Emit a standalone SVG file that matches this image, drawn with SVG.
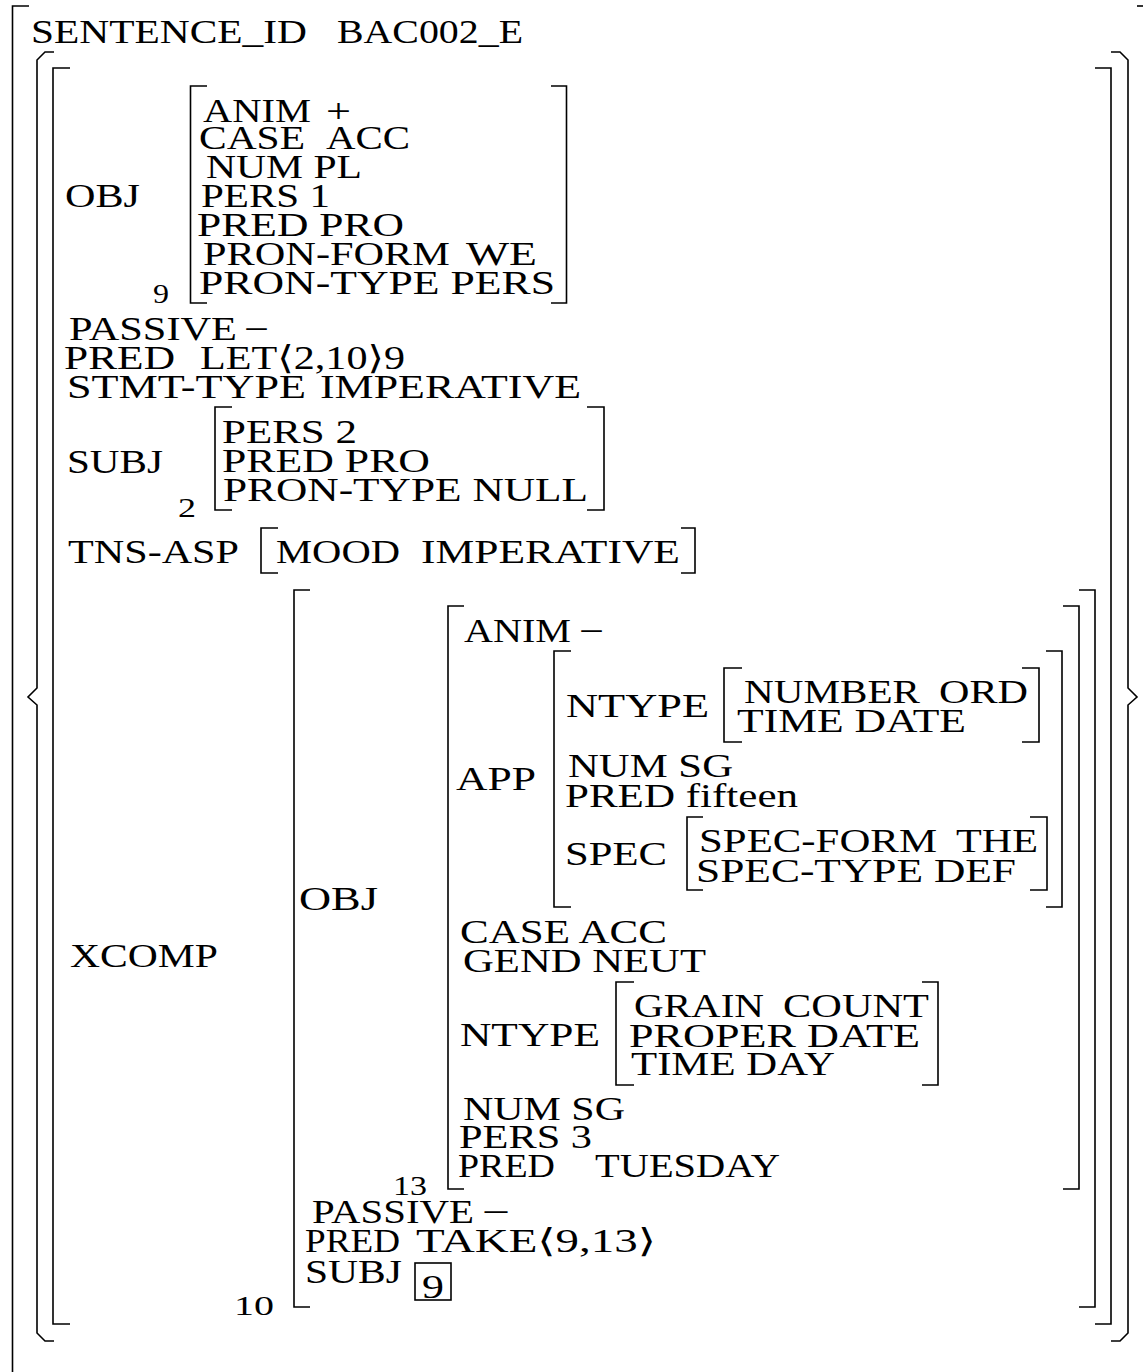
<svg xmlns="http://www.w3.org/2000/svg" width="1143" height="1372" viewBox="0 0 1143 1372">
  <style>
    text { font-family: "Liberation Serif", "DejaVu Serif", serif; font-size: 33px; fill: #000; }
    text.n { font-size: 27px; }
    .br { fill: none; stroke: #000; stroke-width: 1.6; stroke-linejoin: miter; }
  </style>
  <rect width="1143" height="1372" fill="#fff"/>

  <!-- outer frame -->
  <g id="frame">
    <path class="br" d="M29,6 H12.5 V1372"/>
    <path class="br" d="M1137,6 H1143"/>
    <text x="31" y="43" textLength="276" lengthAdjust="spacingAndGlyphs">SENTENCE_ID</text>
    <text x="337" y="43" textLength="186" lengthAdjust="spacingAndGlyphs">BAC002_E</text>
  </g>

  <!-- set braces and top-level f-structure brackets -->
  <g id="fstructure">
    <path class="br" d="M54,52 H45 L37,60 V688 L28,697 L37,705 V1333 L45,1341 H54"/>
    <path class="br" d="M1111,52 H1120 L1128,60 V688 L1137,697 L1128,705 V1333 L1120,1341 H1111"/>
    <path class="br" d="M70,68 H53 V1324 H70"/>
    <path class="br" d="M1095,68 H1111 V1324 H1095"/>
  </g>

  <!-- OBJ (index 9) -->
  <g id="obj9">
    <text x="65" y="207" textLength="75" lengthAdjust="spacingAndGlyphs">OBJ</text>
    <path class="br" d="M207,86 H190.5 V303 H207"/>
    <path class="br" d="M551,86 H566.5 V303 H551"/>
    <text x="203" y="122" textLength="108" lengthAdjust="spacingAndGlyphs">ANIM</text>
    <text x="326" y="122" textLength="25" lengthAdjust="spacingAndGlyphs">+</text>
    <text x="199" y="149" textLength="106" lengthAdjust="spacingAndGlyphs">CASE</text>
    <text x="326" y="149" textLength="84" lengthAdjust="spacingAndGlyphs">ACC</text>
    <text x="206" y="178" textLength="156" lengthAdjust="spacingAndGlyphs">NUM PL</text>
    <text x="201" y="207" textLength="129" lengthAdjust="spacingAndGlyphs">PERS 1</text>
    <text x="197" y="236" textLength="207" lengthAdjust="spacingAndGlyphs">PRED PRO</text>
    <text x="203" y="265" textLength="247" lengthAdjust="spacingAndGlyphs">PRON-FORM</text>
    <text x="466" y="265" textLength="71" lengthAdjust="spacingAndGlyphs">WE</text>
    <text x="199" y="294" textLength="356" lengthAdjust="spacingAndGlyphs">PRON-TYPE PERS</text>
    <text class="n" x="153" y="303" textLength="16" lengthAdjust="spacingAndGlyphs">9</text>
  </g>

  <!-- atomic attributes of the top-level f-structure -->
  <g id="atoms">
    <text x="69" y="340" textLength="168" lengthAdjust="spacingAndGlyphs">PASSIVE</text>
    <text x="244" y="340" textLength="25" lengthAdjust="spacingAndGlyphs">−</text>
    <text x="64" y="369" textLength="111" lengthAdjust="spacingAndGlyphs">PRED</text>
    <text x="200" y="369" textLength="205" lengthAdjust="spacingAndGlyphs">LET⟨2,10⟩9</text>
    <text x="67" y="398" textLength="239" lengthAdjust="spacingAndGlyphs">STMT-TYPE</text>
    <text x="320" y="398" textLength="261" lengthAdjust="spacingAndGlyphs">IMPERATIVE</text>
  </g>

  <!-- SUBJ (index 2) -->
  <g id="subj2">
    <text x="67" y="473" textLength="96" lengthAdjust="spacingAndGlyphs">SUBJ</text>
    <path class="br" d="M232,407 H215 V510 H232"/>
    <path class="br" d="M587,407 H604 V510 H587"/>
    <text x="222" y="443" textLength="135" lengthAdjust="spacingAndGlyphs">PERS 2</text>
    <text x="222" y="472" textLength="208" lengthAdjust="spacingAndGlyphs">PRED PRO</text>
    <text x="223" y="501" textLength="365" lengthAdjust="spacingAndGlyphs">PRON-TYPE NULL</text>
    <text class="n" x="178" y="517" textLength="18" lengthAdjust="spacingAndGlyphs">2</text>
  </g>

  <!-- TNS-ASP -->
  <g id="tnsasp">
    <text x="68" y="563" textLength="171" lengthAdjust="spacingAndGlyphs">TNS-ASP</text>
    <path class="br" d="M278,528 H261 V573 H278"/>
    <path class="br" d="M681,528 H695 V573 H681"/>
    <text x="276" y="563" textLength="124" lengthAdjust="spacingAndGlyphs">MOOD</text>
    <text x="421" y="563" textLength="259" lengthAdjust="spacingAndGlyphs">IMPERATIVE</text>
  </g>

  <!-- XCOMP (index 10) -->
  <g id="xcomp10">
    <text x="70" y="967" textLength="148" lengthAdjust="spacingAndGlyphs">XCOMP</text>
    <path class="br" d="M310,590 H294 V1307 H310"/>
    <path class="br" d="M1079,590 H1095 V1307 H1079"/>
    <text x="299" y="910" textLength="79" lengthAdjust="spacingAndGlyphs">OBJ</text>
    <text x="312" y="1223" textLength="162" lengthAdjust="spacingAndGlyphs">PASSIVE</text>
    <text x="482" y="1223" textLength="28" lengthAdjust="spacingAndGlyphs">−</text>
    <text x="305" y="1252" textLength="95" lengthAdjust="spacingAndGlyphs">PRED</text>
    <text x="416" y="1252" textLength="240" lengthAdjust="spacingAndGlyphs">TAKE⟨9,13⟩</text>
    <text x="305" y="1283" textLength="97" lengthAdjust="spacingAndGlyphs">SUBJ</text>
    <rect class="br" x="415" y="1263" width="36" height="37"/>
    <text x="422" y="1298" textLength="22" lengthAdjust="spacingAndGlyphs">9</text>
    <text class="n" x="234" y="1315" textLength="40" lengthAdjust="spacingAndGlyphs">10</text>
  </g>

  <!-- XCOMP OBJ (index 13) -->
  <g id="obj13">
    <path class="br" d="M464,606 H448 V1189 H464"/>
    <path class="br" d="M1063,606 H1079 V1189 H1063"/>
    <text x="464" y="642" textLength="107" lengthAdjust="spacingAndGlyphs">ANIM</text>
    <text x="579" y="642" textLength="25" lengthAdjust="spacingAndGlyphs">−</text>
    <text x="456" y="790" textLength="80" lengthAdjust="spacingAndGlyphs">APP</text>
    <text x="460" y="943" textLength="207" lengthAdjust="spacingAndGlyphs">CASE ACC</text>
    <text x="463" y="972" textLength="243" lengthAdjust="spacingAndGlyphs">GEND NEUT</text>
    <text x="460" y="1046" textLength="140" lengthAdjust="spacingAndGlyphs">NTYPE</text>
    <path class="br" d="M634,982 H616 V1085 H634"/>
    <path class="br" d="M922,982 H938 V1085 H922"/>
    <text x="634" y="1017" textLength="130" lengthAdjust="spacingAndGlyphs">GRAIN</text>
    <text x="783" y="1017" textLength="146" lengthAdjust="spacingAndGlyphs">COUNT</text>
    <text x="629" y="1047" textLength="291" lengthAdjust="spacingAndGlyphs">PROPER DATE</text>
    <text x="631" y="1075" textLength="204" lengthAdjust="spacingAndGlyphs">TIME DAY</text>
    <text x="463" y="1120" textLength="162" lengthAdjust="spacingAndGlyphs">NUM SG</text>
    <text x="459" y="1148" textLength="133" lengthAdjust="spacingAndGlyphs">PERS 3</text>
    <text x="458" y="1177" textLength="97" lengthAdjust="spacingAndGlyphs">PRED</text>
    <text x="595" y="1177" textLength="185" lengthAdjust="spacingAndGlyphs">TUESDAY</text>
    <text class="n" x="393" y="1195" textLength="34" lengthAdjust="spacingAndGlyphs">13</text>
  </g>

  <!-- APP -->
  <g id="app">
    <path class="br" d="M571,651 H554 V907 H571"/>
    <path class="br" d="M1046,651 H1062 V907 H1046"/>
    <text x="566" y="717" textLength="143" lengthAdjust="spacingAndGlyphs">NTYPE</text>
    <path class="br" d="M742,668 H724 V742 H742"/>
    <path class="br" d="M1022,668 H1039 V742 H1022"/>
    <text x="744" y="703" textLength="176" lengthAdjust="spacingAndGlyphs">NUMBER</text>
    <text x="939" y="703" textLength="89" lengthAdjust="spacingAndGlyphs">ORD</text>
    <text x="737" y="732" textLength="229" lengthAdjust="spacingAndGlyphs">TIME DATE</text>
    <text x="568" y="777" textLength="165" lengthAdjust="spacingAndGlyphs">NUM SG</text>
    <text x="565" y="807" textLength="233" lengthAdjust="spacingAndGlyphs">PRED fifteen</text>
    <text x="565" y="865" textLength="102" lengthAdjust="spacingAndGlyphs">SPEC</text>
    <path class="br" d="M703,817 H687 V890 H703"/>
    <path class="br" d="M1030,817 H1047 V890 H1030"/>
    <text x="699" y="852" textLength="238" lengthAdjust="spacingAndGlyphs">SPEC-FORM</text>
    <text x="956" y="852" textLength="82" lengthAdjust="spacingAndGlyphs">THE</text>
    <text x="696" y="882" textLength="320" lengthAdjust="spacingAndGlyphs">SPEC-TYPE DEF</text>
  </g>
</svg>
